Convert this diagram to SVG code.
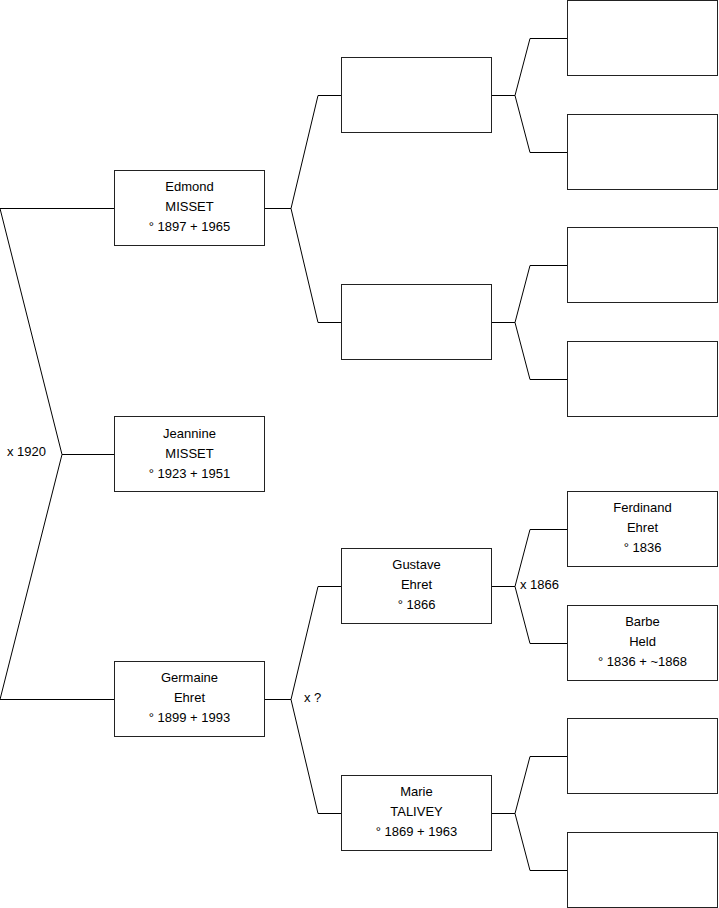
<svg xmlns="http://www.w3.org/2000/svg" width="719" height="908" viewBox="0 0 719 908">
<style>
.b{fill:#fff;stroke:#222;stroke-width:1}
.c{fill:none;stroke:#000;stroke-width:1}
text{font-family:"Liberation Sans",Arial,sans-serif;font-size:13px;fill:#000}
.t{text-anchor:middle}
</style>
<rect width="719" height="908" fill="#fff"/>
<g id="connectors">
<polyline class="c" points="114,208.5 0,208.5 62,454.5 0,699.5 114,699.5"/>
<line class="c" x1="62" y1="454.5" x2="114" y2="454.5"/>
<polyline class="c" points="341,95.5 318,95.5 291,208.5 318,322.5 341,322.5"/>
<line class="c" x1="265" y1="208.5" x2="291" y2="208.5"/>
<polyline class="c" points="341,586.5 318,586.5 291,699.5 318,813.5 341,813.5"/>
<line class="c" x1="265" y1="699.5" x2="291" y2="699.5"/>
<polyline class="c" points="567,38.5 530,38.5 515,95.5 530,152.5 567,152.5"/>
<line class="c" x1="492" y1="95.5" x2="515" y2="95.5"/>
<polyline class="c" points="567,265.5 530,265.5 515,322.5 530,379.5 567,379.5"/>
<line class="c" x1="492" y1="322.5" x2="515" y2="322.5"/>
<polyline class="c" points="567,529.5 530,529.5 515,586.5 530,643.5 567,643.5"/>
<line class="c" x1="492" y1="586.5" x2="515" y2="586.5"/>
<polyline class="c" points="567,756.5 530,756.5 515,813.5 530,870.5 567,870.5"/>
<line class="c" x1="492" y1="813.5" x2="515" y2="813.5"/>
<text x="7" y="456">x 1920</text>
<text x="304" y="702">x ?</text>
<text x="520" y="589">x 1866</text>
</g>
<g id="edmond"><rect class="b" x="114.5" y="170.5" width="150" height="75"/>
<text class="t" x="189.5" y="191">Edmond</text><text class="t" x="189.5" y="211">MISSET</text><text class="t" x="189.5" y="231">° 1897 + 1965</text></g>
<g id="jeannine"><rect class="b" x="114.5" y="416.5" width="150" height="75"/>
<text class="t" x="189.5" y="438">Jeannine</text><text class="t" x="189.5" y="458">MISSET</text><text class="t" x="189.5" y="478">° 1923 + 1951</text></g>
<g id="germaine"><rect class="b" x="114.5" y="661.5" width="150" height="75"/>
<text class="t" x="189.5" y="682">Germaine</text><text class="t" x="189.5" y="702">Ehret</text><text class="t" x="189.5" y="722">° 1899 + 1993</text></g>
<g id="f-edmond"><rect class="b" x="341.5" y="57.5" width="150" height="75"/></g>
<g id="m-edmond"><rect class="b" x="341.5" y="284.5" width="150" height="75"/></g>
<g id="gustave"><rect class="b" x="341.5" y="548.5" width="150" height="75"/>
<text class="t" x="416.5" y="569">Gustave</text><text class="t" x="416.5" y="589">Ehret</text><text class="t" x="416.5" y="609">° 1866</text></g>
<g id="marie"><rect class="b" x="341.5" y="775.5" width="150" height="75"/>
<text class="t" x="416.5" y="796">Marie</text><text class="t" x="416.5" y="816">TALIVEY</text><text class="t" x="416.5" y="836">° 1869 + 1963</text></g>
<g id="g3a"><rect class="b" x="567.5" y="0.5" width="150" height="75"/></g>
<g id="g3b"><rect class="b" x="567.5" y="114.5" width="150" height="75"/></g>
<g id="g3c"><rect class="b" x="567.5" y="227.5" width="150" height="75"/></g>
<g id="g3d"><rect class="b" x="567.5" y="341.5" width="150" height="75"/></g>
<g id="ferdinand"><rect class="b" x="567.5" y="491.5" width="150" height="75"/>
<text class="t" x="642.5" y="512">Ferdinand</text><text class="t" x="642.5" y="532">Ehret</text><text class="t" x="642.5" y="552">° 1836</text></g>
<g id="barbe"><rect class="b" x="567.5" y="605.5" width="150" height="75"/>
<text class="t" x="642.5" y="626">Barbe</text><text class="t" x="642.5" y="646">Held</text><text class="t" x="642.5" y="666">° 1836 + ~1868</text></g>
<g id="g3g"><rect class="b" x="567.5" y="718.5" width="150" height="75"/></g>
<g id="g3h"><rect class="b" x="567.5" y="832.5" width="150" height="75"/></g>
</svg>
